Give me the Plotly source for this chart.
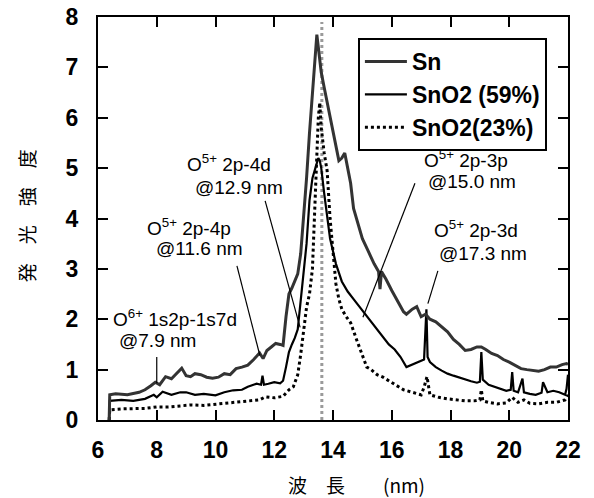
import plotly.graph_objects as go

# ---------------- data ----------------
sn_x = [6.38, 6.4, 6.6, 7.0, 7.4, 7.6, 7.8, 7.95, 8.1, 8.3, 8.5, 8.7, 8.85, 9.0, 9.15, 9.3, 9.5,
        9.7, 9.9, 10.1, 10.3, 10.5, 10.7, 10.9, 11.1, 11.3, 11.5, 11.62, 11.75, 11.9, 12.05, 12.2,
        12.3, 12.4, 12.5, 12.6, 12.7, 12.8, 12.9, 13.0, 13.1, 13.2, 13.3, 13.4, 13.45, 13.5, 13.6,
        13.7, 13.8, 13.9, 14.0, 14.1, 14.2, 14.3, 14.4, 14.5, 14.6, 14.7, 14.8, 14.9, 15.0, 15.2,
        15.4, 15.55, 15.6, 15.65, 15.8, 16.0, 16.2, 16.4, 16.5, 16.7, 16.85, 17.0, 17.15, 17.3,
        17.5, 17.7, 17.9, 18.1, 18.3, 18.5, 18.7, 18.9, 19.05, 19.2, 19.4, 19.6, 19.8, 20.0, 20.2,
        20.4, 20.6, 20.8, 21.0, 21.2, 21.4, 21.6, 21.8, 21.95, 22.0]
sn_y = [0.0, 0.5, 0.52, 0.5, 0.55, 0.6, 0.68, 0.75, 0.7, 0.86, 0.82, 0.95, 1.03, 0.88, 0.86, 0.92,
        0.9, 0.85, 0.83, 0.85, 0.92, 0.9, 1.02, 1.05, 1.09, 1.2, 1.33, 1.22, 1.38, 1.45, 1.52, 1.5,
        1.48, 2.05, 2.5, 2.62, 2.75, 2.9, 3.3, 4.0, 4.8, 5.7, 6.5, 7.3, 7.65, 7.4, 6.9, 6.6, 6.3,
        6.0, 5.7, 5.4, 5.15, 5.2, 5.3, 5.0, 4.7, 4.2, 4.0, 3.85, 3.6, 3.35, 3.1, 2.95, 2.6, 2.95,
        2.8, 2.57, 2.35, 2.15, 2.1, 2.2, 2.25, 2.05, 2.1, 2.0, 1.95, 1.85, 1.75, 1.6, 1.5, 1.38,
        1.4, 1.45, 1.45, 1.4, 1.32, 1.28, 1.2, 1.15, 1.08, 1.02, 1.0, 0.98, 0.97, 1.0, 1.05, 1.05,
        1.1, 1.12, 1.1]

s59_x = [6.38, 6.4, 6.8, 7.2, 7.6, 7.9, 8.0, 8.2, 8.5, 8.8, 9.0, 9.3, 9.6, 10.0, 10.3, 10.6, 10.9,
         11.1, 11.4, 11.55, 11.6, 11.65, 11.8, 12.0, 12.2, 12.3, 12.4, 12.5, 12.6, 12.7, 12.8,
         12.9, 13.0, 13.1, 13.2, 13.3, 13.4, 13.5, 13.55, 13.6, 13.7, 13.8, 13.9, 14.0, 14.1, 14.3,
         14.5, 14.7, 14.9, 15.1, 15.3, 15.5, 15.7, 15.9, 16.1, 16.3, 16.5, 16.7, 16.9, 17.1, 17.18,
         17.22, 17.3, 17.5, 17.7, 17.9, 18.1, 18.3, 18.5, 18.7, 18.9, 19.0, 19.05, 19.1, 19.3,
         19.5, 19.7, 19.9, 20.05, 20.1, 20.15, 20.3, 20.45, 20.5, 20.7, 20.9, 21.1, 21.15, 21.3,
         21.5, 21.7, 21.9, 21.95, 22.0]
s59_y = [0.0, 0.38, 0.4, 0.38, 0.42, 0.5, 0.45, 0.56, 0.5, 0.55, 0.55, 0.5, 0.52, 0.49, 0.55,
         0.59, 0.6, 0.66, 0.72, 0.7, 0.88, 0.7, 0.72, 0.75, 0.73, 0.78, 1.05, 1.35, 1.5, 1.63,
         1.8, 2.4, 3.0, 3.5, 4.36, 4.8, 5.0, 5.2, 5.15, 5.0, 4.5, 4.0, 3.6, 3.35, 3.1, 2.75, 2.55,
         2.4, 2.25, 2.1, 1.95, 1.8, 1.65, 1.5, 1.4, 1.25, 1.05, 1.1, 1.15, 1.2, 2.2, 1.25, 1.15,
         1.05, 0.98, 0.92, 0.88, 0.84, 0.8, 0.77, 0.74, 0.76, 1.35, 0.8, 0.7, 0.66, 0.62, 0.58,
         0.6, 0.95, 0.58, 0.55, 0.82, 0.55, 0.52, 0.5, 0.54, 0.75, 0.55, 0.58, 0.55, 0.5, 0.62, 0.9]

s23_x = [6.38, 6.4, 6.8, 7.2, 7.6, 8.0, 8.4, 8.8, 9.2, 9.6, 10.0, 10.4, 10.8, 11.2, 11.5, 11.7,
         12.0, 12.3, 12.5, 12.65, 12.8, 12.9, 13.0, 13.1, 13.2, 13.3, 13.4, 13.5, 13.55, 13.6,
         13.7, 13.8, 13.9, 14.0, 14.1, 14.2, 14.3, 14.45, 14.6, 14.8, 15.0, 15.15, 15.3, 15.5,
         15.7, 15.9, 16.1, 16.4, 16.7, 17.0, 17.1, 17.2, 17.3, 17.6, 17.9, 18.2, 18.5, 18.8, 19.0,
         19.05, 19.1, 19.3, 19.6, 19.9, 20.1, 20.3, 20.5, 20.7, 21.0, 21.3, 21.6, 21.9, 22.0]
s23_y = [0.0, 0.2, 0.22, 0.22, 0.23, 0.26, 0.26, 0.28, 0.3, 0.29, 0.31, 0.33, 0.35, 0.38, 0.4,
         0.46, 0.44, 0.47, 0.6, 0.66, 0.9, 1.3, 1.8, 2.24, 2.5, 3.0, 4.5, 6.0, 6.3, 5.8, 5.3,
         4.95, 4.0, 3.3, 2.7, 2.4, 2.2, 2.05, 1.93, 1.6, 1.3, 1.05, 1.0, 0.9, 0.85, 0.78, 0.72,
         0.6, 0.55, 0.5, 0.65, 0.86, 0.5, 0.45, 0.42, 0.4, 0.38, 0.38, 0.4, 0.6, 0.38, 0.35, 0.32,
         0.34, 0.45, 0.35, 0.4, 0.33, 0.32, 0.35, 0.35, 0.4, 0.5]

band_x = [13.62, 13.62]
band_y = [0.0, 7.9]

series_names = ["Sn", "SnO2 (59%)", "SnO2(23%)"]

x_ticks = [6, 8, 10, 12, 14, 16, 18, 20, 22]
y_ticks = [0, 1, 2, 3, 4, 5, 6, 7, 8]

# annotation labels: (line1, line2), text positions, pointer lines
label_line1 = ["O<sup>6+</sup> 1s2p-1s7d", "O<sup>5+</sup> 2p-4p", "O<sup>5+</sup> 2p-4d",
               "O<sup>5+</sup> 2p-3p", "O<sup>5+</sup> 2p-3d"]
label_line2 = ["@7.9 nm", "@11.6 nm", "@12.9 nm", "@15.0 nm", "@17.3 nm"]
l1_pos = [(8.62, 2.02), (9.10, 3.83), (10.46, 5.10), (18.53, 5.18), (18.87, 3.79)]
l2_pos = [(8.04, 1.58), (9.44, 3.40), (10.80, 4.62), (18.73, 4.74), (19.11, 3.30)]
ptr_from = [(8.0, 1.25), (10.73, 3.06), (11.69, 4.35), (16.79, 4.70), (17.57, 2.96)]
ptr_to = [(8.0, 0.73), (11.51, 1.28), (12.88, 1.84), (15.02, 2.04), (17.23, 2.31)]

# ---------------- figure ----------------
fig = go.Figure()
fig.add_trace(go.Scatter(x=band_x, y=band_y, mode="lines", showlegend=False,
                         line=dict(color="#9a9a9a", width=3, dash="dot"), hoverinfo="skip"))
fig.add_trace(go.Scatter(x=s23_x, y=s23_y, mode="lines", name=series_names[2],
                         line=dict(color="black", width=3, dash="dot")))
fig.add_trace(go.Scatter(x=s59_x, y=s59_y, mode="lines", name=series_names[1],
                         line=dict(color="black", width=2.2)))
fig.add_trace(go.Scatter(x=sn_x, y=sn_y, mode="lines", name=series_names[0],
                         line=dict(color="#333333", width=3)))

afont = dict(family="Arial, Liberation Sans, sans-serif", size=19, color="black")
for t1, t2, p1, p2, a, b in zip(label_line1, label_line2, l1_pos, l2_pos, ptr_from, ptr_to):
    fig.add_annotation(x=p1[0], y=p1[1], text=t1, showarrow=False, font=afont,
                       xanchor="center", yanchor="middle")
    fig.add_annotation(x=p2[0], y=p2[1], text=t2, showarrow=False, font=afont,
                       xanchor="center", yanchor="middle")
    fig.add_shape(type="line", x0=a[0], y0=a[1], x1=b[0], y1=b[1],
                  line=dict(color="black", width=1.2))

cjk = "Noto Sans CJK JP, sans-serif"
fig.add_annotation(xref="paper", yref="paper", x=0.549, y=-0.159, text="波　長　　(nm)",
                   xanchor="center", yanchor="middle",
                   showarrow=False, font=dict(family=cjk, size=19, color="black"))
fig.add_annotation(xref="paper", yref="paper", x=-0.153, y=0.506, text="発　光　強　度",
                   xanchor="center", yanchor="middle",
                   textangle=-90, showarrow=False, font=dict(family=cjk, size=19, color="black"))

tickfont = dict(family="Arial, Liberation Sans, sans-serif", size=23, color="black",
                weight="bold")
fig.update_xaxes(range=[6, 22], tickvals=x_ticks, ticktext=[str(v) for v in x_ticks],
                 ticks="inside", ticklen=10, tickwidth=1.5, tickcolor="black",
                 showline=True, linecolor="black", linewidth=2, mirror="ticks",
                 showgrid=False, zeroline=False, tickfont=tickfont, ticklabelstandoff=8,
                 ticklabeloverflow="allow", automargin=False)
fig.update_yaxes(range=[0, 8], tickvals=y_ticks, ticktext=[str(v) for v in y_ticks],
                 ticks="inside", ticklen=10, tickwidth=1.5, tickcolor="black",
                 showline=True, linecolor="black", linewidth=2, mirror="ticks",
                 showgrid=False, zeroline=False, tickfont=tickfont, ticklabelstandoff=13,
                 ticklabeloverflow="allow", automargin=False)

fig.update_layout(
    width=586, height=490,
    margin=dict(l=90, r=26, t=9, b=78, autoexpand=False),
    paper_bgcolor="white", plot_bgcolor="white",
    showlegend=True,
    legend=dict(x=0.553, y=0.948, xanchor="left", yanchor="top",
                traceorder="reversed",
                bgcolor="white", bordercolor="black", borderwidth=2,
                font=dict(family="Arial, Liberation Sans, sans-serif", size=23,
                          color="black", weight="bold"),
                itemwidth=42),
)

fig.write_html("out.html")
